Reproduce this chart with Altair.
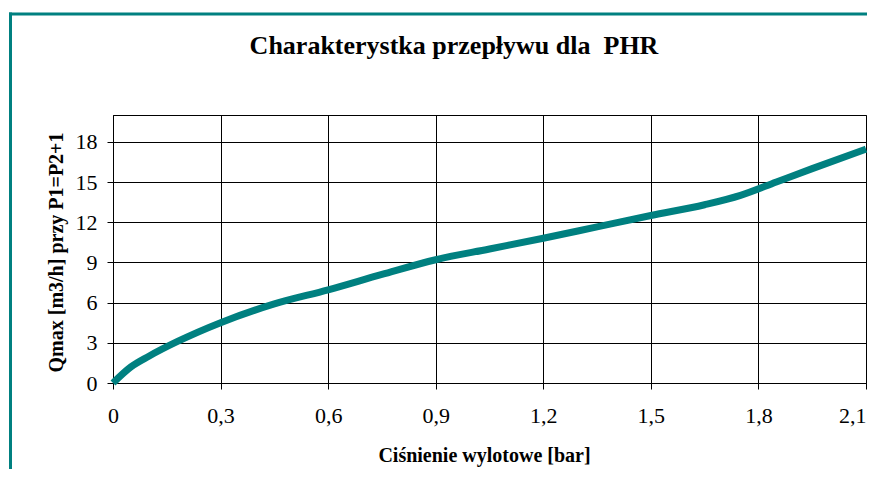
import altair as alt
import pandas as pd

# Data
pressure_bar = [0, 0.05, 0.1, 0.18, 0.3, 0.45, 0.6, 0.75, 0.9, 1.05, 1.2, 1.35, 1.5, 1.65, 1.75, 1.85, 1.95, 2.1]
qmax_m3h = [0, 1.2, 2.0, 3.1, 4.5, 5.9, 6.95, 8.1, 9.2, 10.0, 10.8, 11.65, 12.5, 13.3, 14.0, 15.0, 16.0, 17.45]
x_ticks = [0, 0.3, 0.6, 0.9, 1.2, 1.5, 1.8, 2.1]
y_ticks = [0, 3, 6, 9, 12, 15, 18]

title_text = "Charakterystka przepływu dla\u00a0 PHR"
x_title = "Ciśnienie wylotowe [bar]"
y_title = "Qmax [m3/h] przy P1=P2+1"

TEAL = "#008080"
FONT = "Liberation Serif"

df = pd.DataFrame({"p": pressure_bar, "q": qmax_m3h})
one = pd.DataFrame({"t": [title_text]})

W, H = 753, 268

line = alt.Chart(df).mark_line(color=TEAL, strokeWidth=7, interpolate="monotone").encode(
    x=alt.X(
        "p:Q",
        scale=alt.Scale(domain=[0, 2.1], nice=False, zero=False),
        axis=alt.Axis(
            values=x_ticks,
            labelExpr="replace(format(datum.value, '.1~f'), '.', ',')",
            labelFlush=False,
            labelAlign={"condition": {"test": "datum.value > 2.05", "value": "right"}, "value": "center"},
            title=x_title,
            titleX=371,
            titleY=78,
            titleAlign="center",
            titleBaseline="alphabetic",
            labelPadding=16,
        ),
    ),
    y=alt.Y(
        "q:Q",
        scale=alt.Scale(domain=[0, 20], nice=False),
        axis=alt.Axis(
            values=y_ticks,
            title=y_title,
            titleX=-51,
            titleY=137,
            titleAngle=-90,
            titleAlign="center",
            titleBaseline="alphabetic",
            labelPadding=10,
        ),
    ),
)

frame_v = alt.Chart(one).mark_rule(color=TEAL, strokeWidth=3).encode(
    x=alt.value(-102.5), y=alt.value(-102.5), y2=alt.value(600)
)
frame_h = alt.Chart(one).mark_rule(color=TEAL, strokeWidth=3).encode(
    y=alt.value(-101), x=alt.value(-104), x2=alt.value(900)
)
title_mark = alt.Chart(one).mark_text(
    font=FONT, fontSize=26, fontWeight="bold", color="black",
    align="center", baseline="alphabetic",
).encode(text="t:N", x=alt.value(341), y=alt.value(-61))

chart = (
    alt.layer(frame_v, frame_h, title_mark, line)
    .properties(
        width=W,
        height=H,
        autosize=alt.AutoSizeParams(type="none"),
        padding={"left": 105, "top": 107, "right": 1, "bottom": 86},
        background="white",
    )
    .configure_view(stroke="black", strokeWidth=1)
    .configure_axis(
        labelFont=FONT,
        labelFontSize=22,
        labelColor="black",
        titleFont=FONT,
        titleFontSize=20,
        titleFontWeight="bold",
        titleColor="black",
        domainColor="black",
        tickColor="black",
        tickSize=6,
        gridColor="black",
        gridOpacity=1,
        gridWidth=1,
    )
)

chart.save("out.html", embed_options={"renderer": "svg", "actions": False})
